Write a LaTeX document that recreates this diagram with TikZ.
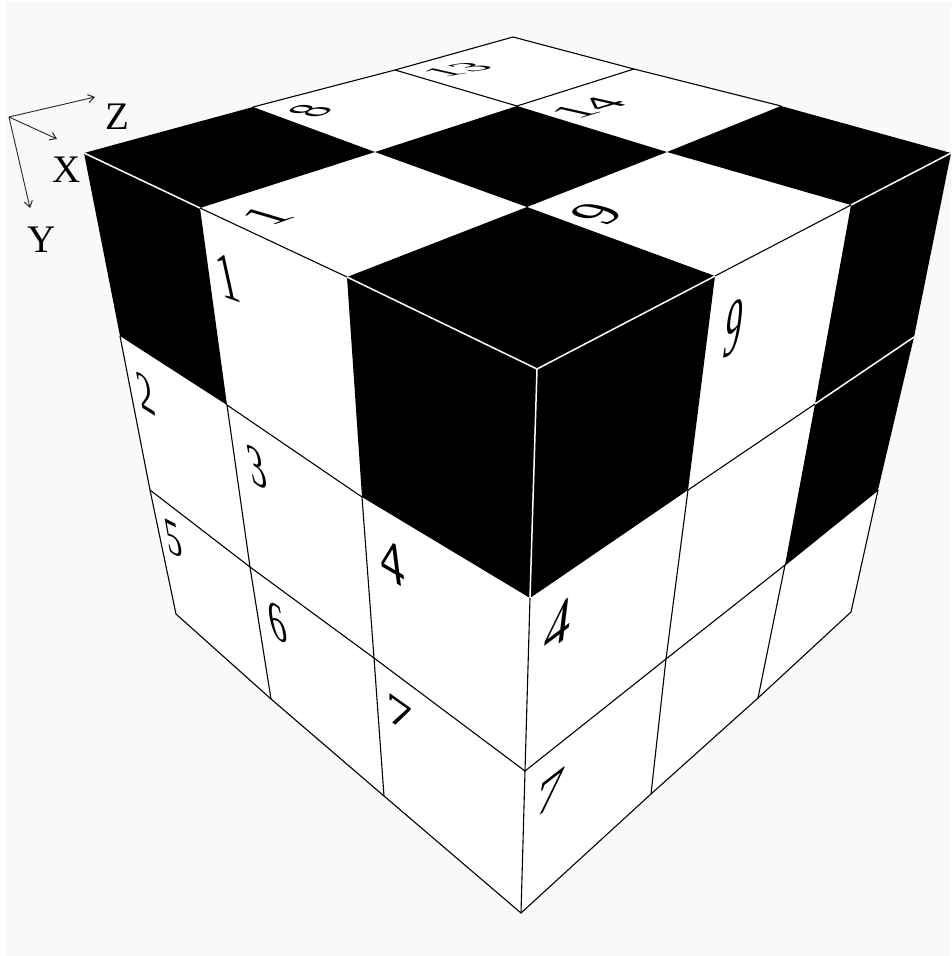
\documentclass[tikz,border=0pt]{standalone}
\usepackage{xcolor}
\usepackage{fontspec}
\setmainfont{Liberation Serif}
\usepackage{tikz}
\usetikzlibrary{arrows.meta}
\definecolor{paper}{HTML}{F9F9F9}
\tikzset{
  cube black/.style={fill=black, draw=none},
  cube white/.style={fill=white, draw=none},
  grid dark/.style={line width=1.1pt, black},
  grid light/.style={line width=1.5pt, white},
  axis arrow/.style={-{Straight Barb[length=6pt,width=8pt,line width=1pt]}, line width=0.9pt, black!85},
  axis label/.style={inner sep=0pt, scale=3.9},
  digit/.style n args={4}{inner sep=0pt, cm={#1,#2,#3,#4,(0,0)}},
}

\begin{document}
\begin{tikzpicture}[x=1pt,y=-1pt]
  \useasboundingbox (0,0) rectangle (951,956);
  \fill[white] (0,0) rectangle (951,956);
  \fill[paper] (6,2) rectangle (951,956);

  % top face corners, left to front
  \coordinate (a0) at (84,153);   \coordinate (a1) at (200,208);  \coordinate (a2) at (347,277);  \coordinate (a3) at (537,369);
  \coordinate (b0) at (253,107);  \coordinate (b1) at (375,152);  \coordinate (b2) at (527,207);  \coordinate (b3) at (715,276);
  \coordinate (c0) at (395,70);   \coordinate (c1) at (517,106);  \coordinate (c2) at (667,152);  \coordinate (c3) at (851,205);
  \coordinate (d0) at (513,37);   \coordinate (d1) at (634,69);   \coordinate (d2) at (781,106);  \coordinate (d3) at (951,153);
  % left face, going down
  \coordinate (e1) at (120,336);  \coordinate (e2) at (150,490);  \coordinate (e3) at (176,614);
  \coordinate (f1) at (227,405);  \coordinate (f2) at (250,567);  \coordinate (f3) at (271,699);
  \coordinate (g1) at (362,497);  \coordinate (g2) at (374,658);  \coordinate (g3) at (384,796);
  \coordinate (h1) at (530,598);  \coordinate (h2) at (525,771);  \coordinate (h3) at (521,913);
  % right face, going down
  \coordinate (i1) at (688,490);  \coordinate (i2) at (666,659);  \coordinate (i3) at (651,794);
  \coordinate (j1) at (815,404);  \coordinate (j2) at (785,565);  \coordinate (j3) at (758,698);
  \coordinate (k1) at (914,337);  \coordinate (k2) at (878,490);  \coordinate (k3) at (851,612);

  % faces
  \fill[cube white] (a0) -- (d0) -- (d3) -- (k1) -- (k2) -- (k3) -- (h3) -- (e3) -- (e2) -- (e1) -- cycle;

  % black cells
  \fill[cube black] (a0) -- (a1) -- (b1) -- (b0) -- cycle;
  \fill[cube black] (b1) -- (b2) -- (c2) -- (c1) -- cycle;
  \fill[cube black] (a2) -- (a3) -- (b3) -- (b2) -- cycle;
  \fill[cube black] (c2) -- (c3) -- (d3) -- (d2) -- cycle;
  \fill[cube black] (a0) -- (a1) -- (f1) -- (e1) -- cycle;
  \fill[cube black] (a2) -- (a3) -- (h1) -- (g1) -- cycle;
  \fill[cube black] (a3) -- (b3) -- (i1) -- (h1) -- cycle;
  \fill[cube black] (c3) -- (d3) -- (k1) -- (j1) -- cycle;
  \fill[cube black] (j1) -- (k1) -- (k2) -- (j2) -- cycle;

  % lines on white
  \draw[grid dark] (b0) -- (c0) -- (d0) -- (d1) -- (d2);
  \draw[grid dark] (c0) -- (c1);
  \draw[grid dark] (c1) -- (d1);
  \draw[grid dark] (a1) -- (a2);
  \draw[grid dark] (b3) -- (c3);
  \draw[grid dark] (e1) -- (e2) -- (e3) -- (f3) -- (g3) -- (h3) -- (i3) -- (j3) -- (k3) -- (k2);
  \draw[grid dark] (f1) -- (f2) -- (f3);
  \draw[grid dark] (g1) -- (g2) -- (g3);
  \draw[grid dark] (h1) -- (h2) -- (h3);
  \draw[grid dark] (i1) -- (i2) -- (i3);
  \draw[grid dark] (j2) -- (j3);
  \draw[grid dark] (e2) -- (f2) -- (g2) -- (h2) -- (i2) -- (j2) -- (k2);
  \draw[grid dark] (f1) -- (g1);
  \draw[grid dark] (i1) -- (j1);

  % lines on black
  \draw[grid light] (a0) -- (a1);
  \draw[grid light] (a2) -- (a3) -- (b3);
  \draw[grid light] (c3) -- (d3);
  \draw[grid light] (a3) -- (h1);
  \draw[grid light] (j1) -- (k1);

  % numbers on top
  \node[digit={5.6}{2}{-5.4}{1.6}] (top1) at (267,216) {1};
  \node[digit={3.6}{2}{-5.1}{0.8}] (top8) at (310,111) {8};
  \node[digit={4.4}{2.8}{-6}{1.8}] (top9) at (597,214) {9};
  \node[digit={5.4}{0.9}{-4}{0.9}] (top13) at (457,70) {13};
  \node[digit={5.4}{1.6}{-4.9}{1.1}] (top14) at (588,108) {14};

  % numbers on the left
  \node[digit={4}{-1.4}{-1.5}{6.8}] (left1) at (228,278) {1};
  \node[digit={3.2}{-2}{-1.1}{5.7}] (left2) at (146,394) {2};
  \node[digit={3.4}{-1.8}{-1.2}{6}] (left3) at (257,467) {3};
  \node[digit={4.8}{-2.8}{-0.8}{6.3}] (left4) at (392,562) {4};
  \node[digit={3.2}{-1.6}{-0.9}{5.2}] (left5) at (174,539) {5};
  \node[digit={3.4}{-1.8}{-1.1}{5.7}] (left6) at (277,622) {6};
  \node[digit={5.25}{-3.75}{0}{4.2}] (left7) at (400,714) {7};

  % numbers on the right
  \node[digit={3.4}{1.8}{1.2}{8.3}] (right9) at (734,328) {9};
  \node[digit={5.3}{4}{0.8}{6.5}] (right4) at (558,625) {4};
  \node[digit={5.5}{4.25}{0.87}{5.2}] (right7) at (550,793) {7};

  % axes
  \coordinate (origin) at (9,117);
  \node[axis label] (zlabel) at (117,117) {Z};
  \node[axis label] (xlabel) at (67,170) {X};
  \node[axis label] (ylabel) at (42,240) {Y};
  \coordinate (ztip) at (95,97);
  \coordinate (xtip) at (57,139);
  \coordinate (ytip) at (30,208);
  \draw[axis arrow] (origin) -- (ztip);
  \draw[axis arrow] (origin) -- (xtip);
  \draw[axis arrow] (origin) -- (ytip);
\end{tikzpicture}
\end{document}
